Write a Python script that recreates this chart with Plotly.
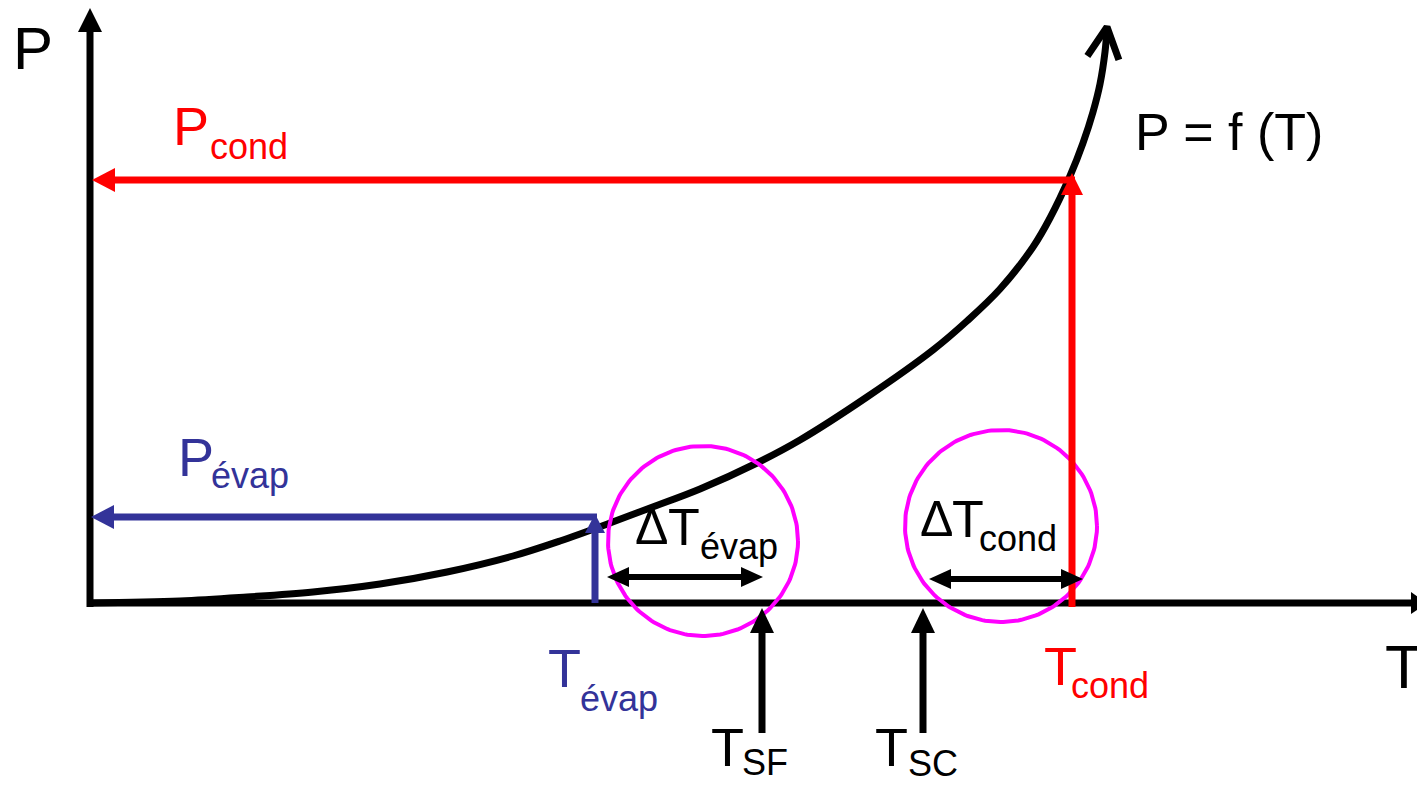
import numpy as np
import plotly.graph_objects as go

# ---------------- data (diagram units: T to the right, P upward, origin at the axes corner)
curve_T = [0, 90, 157, 223, 290, 357, 423, 470, 520, 560, 610, 667, 710, 777, 843, 877, 910,
           943, 960, 980, 993, 1003, 1010, 1015, 1017]
curve_P = [0, 2, 6, 11, 19, 31, 47, 62, 80, 95, 114, 140, 163, 206, 253, 282, 314,
           356, 385, 427, 460, 491, 519, 551, 575]

T_max = 1337
P_max = 595
T_evap = 505
P_evap = 86
T_cond = 982
P_cond = 423
T_SF = 672
T_SC = 833
dT_evap_span = [517, 673]
dT_evap_level = 26
dT_cond_span = [839, 993]
dT_cond_level = 24
marker_bottom = -130
circle_evap = [613, 62, 95]   # centre T, centre P, radius
circle_cond = [911, 77, 96]

RED = "#FF0000"
BLUE = "#333399"
MAG = "#FF00FF"
BLK = "#000000"
FONT = "Liberation Sans, Arial, sans-serif"

fig = go.Figure()


def head_xy(tip, direction, length, half):
    tx, ty = tip
    dx, dy = direction
    n = np.hypot(dx, dy)
    dx, dy = dx / n, dy / n
    bx, by = tx - dx * length, ty - dy * length
    px, py = -dy, dx
    return ([tx, bx + px * half, bx - px * half, tx],
            [ty, by + py * half, by - py * half, ty])


def add_line(xs, ys, color, width):
    fig.add_trace(go.Scatter(x=xs, y=ys, mode="lines", cliponaxis=False,
                             line=dict(color=color, width=width),
                             hoverinfo="skip", showlegend=False))


def add_head(tip, direction, color, length, half):
    hx, hy = head_xy(tip, direction, length, half)
    fig.add_trace(go.Scatter(x=hx, y=hy, mode="lines", fill="toself", cliponaxis=False,
                             fillcolor=color, line=dict(color=color, width=0),
                             hoverinfo="skip", showlegend=False))


def arrow(start, tip, color, width=7, length=23, half=12, both=False):
    sx, sy = start
    tx, ty = tip
    d = np.array([tx - sx, ty - sy], float)
    u = d / np.hypot(*d)
    ex, ey = tx - u[0] * length * 0.8, ty - u[1] * length * 0.8
    bx, by = (sx + u[0] * length * 0.8, sy + u[1] * length * 0.8) if both else (sx, sy)
    add_line([bx, ex], [by, ey], color, width)
    add_head((tx, ty), (u[0], u[1]), color, length, half)
    if both:
        add_head((sx, sy), (-u[0], -u[1]), color, length, half)


def circle(c, color, width):
    th = np.linspace(0, 2 * np.pi, 200)
    add_line(c[0] + c[2] * np.cos(th), c[1] + c[2] * np.sin(th), color, width)


# axes
arrow((0, -4), (0, P_max), BLK, width=7, length=24, half=12)
arrow((-3, 0), (T_max, 0), BLK, width=7, length=16, half=11)

# saturation curve with open arrow tip
fig.add_trace(go.Scatter(x=curve_T, y=curve_P, mode="lines", cliponaxis=False,
                         line=dict(color=BLK, width=7, shape="spline", smoothing=1.0),
                         hoverinfo="skip", showlegend=False))
tipT, tipP = curve_T[-1], curve_P[-1] + 1
dv = np.array([curve_T[-1] - curve_T[-3], curve_P[-1] - curve_P[-3]], float)
b = -dv / np.hypot(*dv)
wing = 35
ang = np.radians(27)
w1 = (b[0] * np.cos(ang) - b[1] * np.sin(ang), b[0] * np.sin(ang) + b[1] * np.cos(ang))
w2 = (b[0] * np.cos(-ang) - b[1] * np.sin(-ang), b[0] * np.sin(-ang) + b[1] * np.cos(-ang))
add_line([tipT + w1[0] * wing, tipT, tipT + w2[0] * wing],
         [tipP + w1[1] * wing, tipP, tipP + w2[1] * wing], BLK, 7)

# magenta circles
circle(circle_evap, MAG, 4)
circle(circle_cond, MAG, 4)

# evaporation (blue)
arrow((T_evap + 2, P_evap), (1, P_evap), BLUE, width=7, length=23, half=12)
arrow((T_evap, 0), (T_evap, P_evap + 3), BLUE, width=7, length=19, half=10)

# condensation (red)
arrow((T_cond + 3, P_cond), (2, P_cond), RED, width=7, length=23, half=12)
arrow((T_cond, -4), (T_cond, P_cond + 7), RED, width=7, length=22, half=11)

# delta-T double arrows
arrow((dT_evap_span[0], dT_evap_level), (dT_evap_span[1], dT_evap_level), BLK,
      width=6, length=22, half=10, both=True)
arrow((dT_cond_span[0], dT_cond_level), (dT_cond_span[1], dT_cond_level), BLK,
      width=6, length=22, half=10, both=True)

# fluid temperature markers
arrow((T_SF, marker_bottom), (T_SF, -5), BLK, width=7, length=25, half=12)
arrow((T_SC, marker_bottom), (T_SC, -5), BLK, width=7, length=25, half=12)

# ---------------- labels (text, colour, size, centre T, centre P)
labels = [
    ("P", BLK, 60, -57, 554.5),
    ("T", BLK, 62, 1314, -63),
    ("P", RED, 54, 101, 477),
    ("cond", RED, 36, 158.5, 457),
    ("P", BLUE, 54, 106, 146.5),
    ("évap", BLUE, 36, 160, 128),
    ("P = f (T)", BLK, 52, 1139, 471.5),
    ("T", BLUE, 54, 474, -64.5),
    ("évap", BLUE, 36, 528.5, -95),
    ("T", RED, 54, 970, -63),
    ("cond", RED, 36, 1019.5, -82),
    ("Δ", BLK, 50, 561, 76.5),
    ("T", BLK, 52, 593.5, 76.5),
    ("évap", BLK, 36, 648.5, 57),
    ("Δ", BLK, 50, 846, 84.5),
    ("T", BLK, 52, 877.5, 84.5),
    ("cond", BLK, 36, 927.5, 65),
    ("T", BLK, 54, 637, -143.5),
    ("SF", BLK, 36, 675, -159.5),
    ("T", BLK, 54, 801, -143.5),
    ("SC", BLK, 36, 843, -160.5),
]
for txt, col, size, x, y in labels:
    fig.add_annotation(x=x, y=y, xref="x", yref="y", text=txt, showarrow=False,
                       xanchor="center", yanchor="middle", borderpad=0,
                       font=dict(family=FONT, size=size, color=col))

# the page body adds an 8 px margin: the figure fills the rest of the 1425x785 window
fig.update_layout(
    width=1417, height=777, margin=dict(l=0, r=0, t=0, b=0, pad=0),
    autosize=False, paper_bgcolor="white", plot_bgcolor="white", showlegend=False,
    xaxis=dict(range=[-82, 1335], visible=False, fixedrange=True),
    yaxis=dict(range=[-182, 595], visible=False, fixedrange=True),
)
fig.write_html("out.html", config={"displayModeBar": False})
